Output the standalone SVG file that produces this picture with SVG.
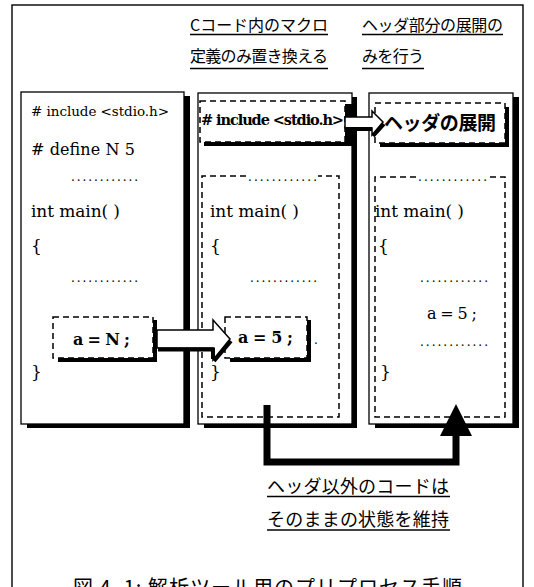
<svg xmlns="http://www.w3.org/2000/svg" width="534" height="587" viewBox="0 0 534 587">
<style>
.frame{fill:none;stroke:#000;stroke-width:1.4}
.panel{fill:#fff;stroke:#000;stroke-width:1.3}
.shadow{fill:#000}
.dash{fill:none;stroke:#000;stroke-width:1.5;stroke-dasharray:6 4}
.code{font-family:"DejaVu Serif","Liberation Serif",serif;fill:#000}
.dots{font-family:"DejaVu Serif","Liberation Serif",serif;font-size:12px;fill:#000}
.jp{font-family:"Noto Sans CJK JP","Noto Sans",sans-serif;fill:#000}
.ul{stroke:#000;stroke-width:1.3}
.arrow{fill:#fff;stroke:#000;stroke-width:1.5;stroke-linejoin:miter}
.sh{fill:none;stroke:#000;stroke-width:4}
</style>
<rect x="0" y="0" width="534" height="587" fill="#fff"/>
<rect class="frame" x="12" y="5" width="511" height="620"/>

<g id="headings">
  <text class="jp" x="190" y="31" font-size="16" textLength="138">Cコード内のマクロ</text>
  <line class="ul" x1="190" y1="34.5" x2="328" y2="34.5"/>
  <text class="jp" x="190" y="62" font-size="16" textLength="138">定義のみ置き換える</text>
  <line class="ul" x1="190" y1="68.5" x2="328" y2="68.5"/>
  <text class="jp" x="362" y="31" font-size="16" textLength="141">ヘッダ部分の展開の</text>
  <line class="ul" x1="362" y1="34.5" x2="503" y2="34.5"/>
  <text class="jp" x="362" y="62" font-size="16" textLength="62">みを行う</text>
  <line class="ul" x1="362" y1="68.5" x2="424" y2="68.5"/>
</g>

<g id="panel-source">
  <rect class="shadow" x="27" y="96" width="163" height="332"/>
  <rect class="panel" x="21" y="92" width="163" height="332"/>
  <text class="code" x="31" y="116" font-size="13.5" textLength="138"># include &lt;stdio.h&gt;</text>
  <text class="code" x="31" y="155" font-size="16" textLength="104"># define N 5</text>
  <text class="dots" x="71" y="181" textLength="67">............</text>
  <text class="code" x="31" y="217" font-size="17" textLength="89">int main( )</text>
  <text class="code" x="31" y="252" font-size="17">{</text>
  <text class="dots" x="71" y="282" textLength="67">............</text>
  <path class="shadow" d="M153,320 H157 V362 H58 V358 H153 Z"/>
  <rect class="dash" x="53" y="317" width="100" height="41"/>
  <text class="code" x="73" y="345" font-size="16" font-weight="bold" textLength="57">a = N ;</text>
  <text class="code" x="31" y="378" font-size="17">}</text>
</g>

<g id="panel-macro">
  <rect class="shadow" x="204" y="97" width="153" height="331"/>
  <rect class="panel" x="198" y="93" width="154" height="331"/>
  <path class="shadow" d="M345,104 H352 V146 H204 V142 H345 Z"/>
  <rect class="dash" x="200" y="101" width="145" height="41"/>
  <text class="code" x="201" y="125" font-size="14.5" font-weight="bold" textLength="143"># include &lt;stdio.h&gt;</text>
  <path class="dash" d="M246,176 H202 V417 H339 V176 H318"/>
  <text class="dots" x="248" y="181" textLength="69">............</text>
  <text class="code" x="210" y="217" font-size="17" textLength="89">int main( )</text>
  <text class="code" x="210" y="252" font-size="17">{</text>
  <text class="dots" x="250" y="282" textLength="67">............</text>
  <path class="shadow" d="M307,320 H311 V362 H230 V358 H307 Z"/>
  <rect class="dash" x="225" y="317" width="82" height="41"/>
  <text class="code" x="238" y="343" font-size="16" font-weight="bold" textLength="55">a = 5 ;</text>
  <text class="dots" x="314" y="344">.</text>
  <text class="code" x="210" y="378" font-size="17">}</text>
</g>

<g id="panel-header">
  <rect class="shadow" x="375" y="97" width="144" height="331"/>
  <rect class="panel" x="369" y="93" width="144" height="331"/>
  <path class="shadow" d="M505,107 H509 V147 H380 V143 H505 Z"/>
  <rect class="dash" x="375" y="103" width="130" height="40"/>
  <text class="jp" x="384" y="130" font-size="19" font-weight="bold" textLength="112">ヘッダの展開</text>
  <path class="dash" d="M416,177 H375 V417 H505 V177 H489"/>
  <text class="dots" x="418" y="181" textLength="69">............</text>
  <text class="code" x="375" y="217" font-size="17" textLength="89">int main( )</text>
  <text class="code" x="378" y="252" font-size="17">{</text>
  <text class="dots" x="420" y="282" textLength="68">............</text>
  <text class="code" x="427" y="319" font-size="16" textLength="50">a = 5 ;</text>
  <text class="dots" x="420" y="346" textLength="68">............</text>
  <text class="code" x="380" y="378" font-size="17">}</text>
</g>

<g id="connectors">
  <polygon class="arrow" points="157,330 213,330 213,320 230,339 213,360 213,348 157,348"/>
  <path class="sh" d="M158,349.5 H213 V359 M214,361 L231,341"/>
  <polygon class="arrow" points="345,117 372,117 372,111 383,122 372,135 372,128 345,128"/>
  <path class="sh" d="M346,129 H372 M373,136 L384,124" stroke-width="3"/>
  <path d="M267,405 V462 H456 V432" fill="none" stroke="#000" stroke-width="7" stroke-linejoin="miter"/>
  <polygon points="456,404 440,436 472,436" fill="#000"/>
</g>

<g id="note">
  <text class="jp" x="267" y="493" font-size="18" textLength="182">ヘッダ以外のコードは</text>
  <line class="ul" x1="267" y1="496.5" x2="450" y2="496.5"/>
  <text class="jp" x="267" y="526" font-size="18" textLength="182">そのままの状態を維持</text>
  <line class="ul" x1="267" y1="530" x2="450" y2="530"/>
</g>

<g id="caption">
  <text class="jp" x="73" y="595" font-size="20" textLength="389">図 4. 1: 解析ツール用のプリプロセス手順</text>
</g>
</svg>
